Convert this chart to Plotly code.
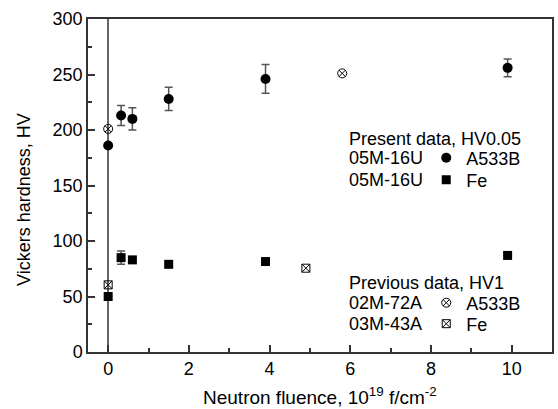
import plotly.graph_objects as go

# ---- data ----
fluence_present = [0, 0.32, 0.6, 1.5, 3.9, 9.9]
hv_a533b_present = [186, 213, 210, 228, 246, 256]
err_a533b_present = [0, 9, 10, 10.5, 13, 8]
hv_fe_present = [50, 85, 83, 79, 81.5, 87]
err_fe_present = [0, 6, 0, 0, 0, 0]

fluence_prev_a533b = [0, 5.8]
hv_prev_a533b = [201, 251]
fluence_prev_fe = [0, 4.9]
hv_prev_fe = [60.5, 75.5]

x_ticks = [0, 2, 4, 6, 8, 10]
y_ticks = [0, 50, 100, 150, 200, 250, 300]

FONT = "Liberation Sans, Arial, sans-serif"
FS = 18
ERRC = "#555555"

fig = go.Figure()

fig.add_trace(go.Scatter(
    x=fluence_present, y=hv_a533b_present, mode="markers", name="A533B",
    marker=dict(symbol="circle", size=10, color="black"),
    error_y=dict(type="data", array=err_a533b_present, color=ERRC, thickness=1.5, width=4),
    legend="legend"))
fig.add_trace(go.Scatter(
    x=fluence_present, y=hv_fe_present, mode="markers", name="Fe",
    marker=dict(symbol="square", size=9, color="black"),
    error_y=dict(type="data", array=err_fe_present, color=ERRC, thickness=1.5, width=4),
    legend="legend2"))
fig.add_trace(go.Scatter(
    x=fluence_prev_a533b, y=hv_prev_a533b, mode="markers", name="A533B",
    marker=dict(symbol="circle-x-open", size=9, color="black", line=dict(width=1)),
    legend="legend3"))
fig.add_trace(go.Scatter(
    x=fluence_prev_fe, y=hv_prev_fe, mode="markers", name="Fe",
    marker=dict(symbol="square-x-open", size=8, color="black", line=dict(width=1)),
    legend="legend4"))

axis_common = dict(
    showgrid=False, showline=True, linecolor="#333333", linewidth=1.5,
    mirror=True, ticks="inside", tickcolor="#333333", tickwidth=1.5,
    ticklen=7, tickfont=dict(family=FONT, size=FS, color="black"),
)

fig.update_xaxes(
    range=[-0.5, 11], tickvals=x_ticks, ticktext=[str(v) for v in x_ticks],
    zeroline=True, zerolinecolor="#666666", zerolinewidth=2,
    minor=dict(dtick=1, ticks="inside", ticklen=4, tickcolor="#333333", tickwidth=1.5),
    **axis_common)
fig.update_yaxes(
    range=[0, 300], tickvals=y_ticks, ticktext=[str(v) for v in y_ticks],
    zeroline=False,
    minor=dict(dtick=25, ticks="inside", ticklen=4, tickcolor="#333333", tickwidth=1.5),
    **axis_common)


def py(pix):
    return (352 - pix) / 333.0


def px(pix):
    return (pix - 88.3) / 466.0


legend_common = dict(
    font=dict(family=FONT, size=FS, color="black"),
    bgcolor="rgba(0,0,0,0)", borderwidth=0, traceorder="normal",
    xanchor="left", yanchor="middle", itemclick=False,
)
LX = px(428)

fig.update_layout(
    width=558, height=409,
    margin=dict(l=88, r=4, t=19, b=57),
    paper_bgcolor="white", plot_bgcolor="white",
    font=dict(family=FONT, size=FS, color="black"),
    showlegend=True,
    legend=dict(x=LX, y=py(158), **legend_common),
    legend2=dict(x=LX, y=py(180), **legend_common),
    legend3=dict(x=LX, y=py(303), **legend_common),
    legend4=dict(x=LX, y=py(324), **legend_common),
)


def ann(text, x, y, size=FS, **kw):
    fig.add_annotation(text=text, x=x, y=y, xref="paper", yref="paper",
                       showarrow=False, xanchor=kw.pop("xanchor", "left"),
                       yanchor=kw.pop("yanchor", "middle"),
                       font=dict(family=FONT, size=size, color="black"), **kw)


ann("Present data, HV0.05", px(348), py(139))
ann("05M-16U", px(348), py(158))
ann("05M-16U", px(348), py(180))
ann("Previous data, HV1", px(348), py(283))
ann("02M-72A", px(348), py(303))
ann("03M-43A", px(348), py(324))

ann("Neutron fluence, 10<sup>19</sup> f/cm<sup>-2</sup>", px(321), py(396),
    size=19, xanchor="center")
ann("Vickers hardness, HV", px(24), py(199), xanchor="center", textangle=-90)

fig.write_html("out.html")
